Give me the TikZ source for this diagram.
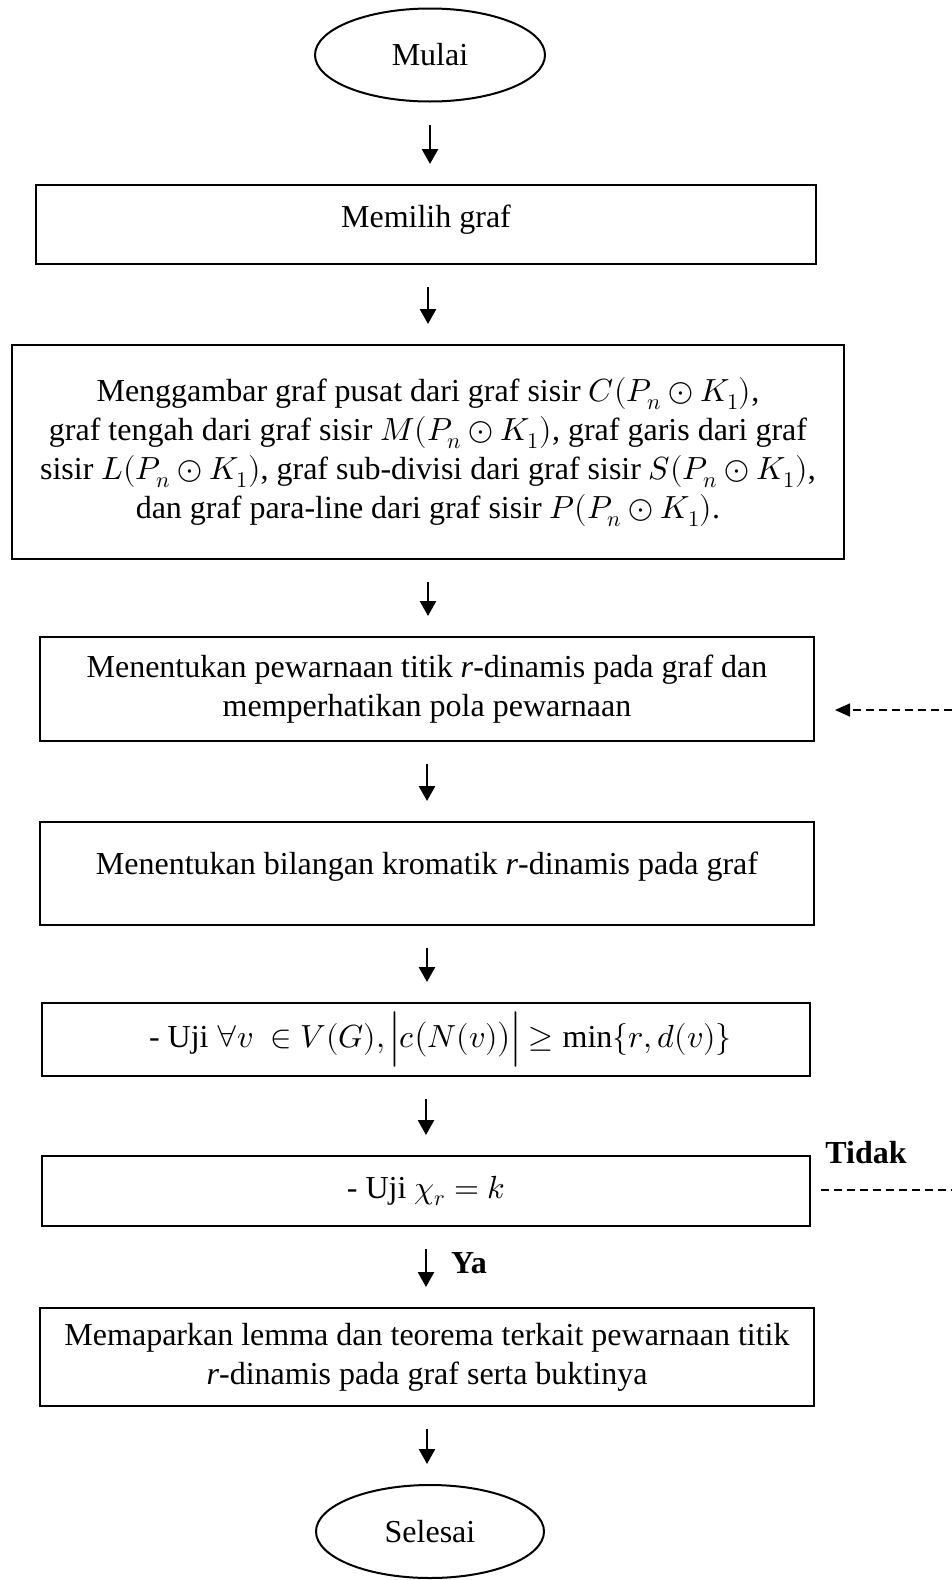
\documentclass[tikz,border=0pt]{standalone}
\usepackage{fontspec}
\usepackage{unicode-math}
\setmainfont{Liberation Serif}
\setmathfont{Latin Modern Math}
\usetikzlibrary{arrows.meta,shapes.geometric}
\begin{document}
\begin{tikzpicture}[x=1pt,y=-1pt,
  every node/.style={font=\fontsize{32}{39}\selectfont},
  box/.style={draw, line width=2pt, rectangle, inner sep=0pt, align=center},
  term/.style={draw, line width=2pt, ellipse, inner sep=0pt},
  arr/.style={line width=2.6pt, -{Triangle[width=16pt,length=15pt]}, shorten <=22pt, shorten >=20pt},
  dashline/.style={line width=1.6pt, dash pattern=on 8pt off 5pt},
  dasharr/.style={dashline, -{Triangle[width=13pt,length=15pt]}},
  lbl/.style={font=\fontsize{32}{39}\selectfont\bfseries, inner sep=0pt}]
\useasboundingbox (0,0) rectangle (952,1580);

\node[term, minimum width=230pt, minimum height=93pt] (start) at (430,55) {Mulai};
\node[box, minimum width=780pt, minimum height=79pt, text height=23pt, text depth=18pt] (b1) at (426,224.5) {Memilih graf};
\node[box, minimum width=832pt, minimum height=214pt] (b2) at (428,452) {Menggambar graf pusat dari graf sisir $C(P_n \odot K_1)$,\\
graf tengah dari graf sisir $M(P_n \odot K_1)$, graf garis dari graf\\
sisir $L(P_n \odot K_1)$, graf sub-divisi dari graf sisir $S(P_n \odot K_1)$,\\
dan graf para-line dari graf sisir $P(P_n \odot K_1)$.};
\node[box, minimum width=774pt, minimum height=104pt] (b3) at (427,689) {Menentukan pewarnaan titik \textit{r}-dinamis pada graf dan\\ memperhatikan pola pewarnaan};
\node[box, minimum width=774pt, minimum height=103pt, text height=23pt, text depth=22pt] (b4) at (427,873.5) {Menentukan bilangan kromatik \textit{r}-dinamis pada graf};
\node[box, minimum width=768pt, minimum height=73pt] (b5) at (426,1039.5) {\makebox[768pt][l]{\hspace*{107pt}- Uji $\forall v\ \in V(G), \Bigl|c\bigl(N(v)\bigr)\Bigr| \geq \min\{r, d(v)\}$}};
\node[box, minimum width=768pt, minimum height=70pt] (b6) at (426,1191) {- Uji $\chi_r = k$};
\node[box, minimum width=774pt, minimum height=98pt] (b7) at (427,1357) {Memaparkan lemma dan teorema terkait pewarnaan titik\\ \textit{r}-dinamis pada graf serta buktinya};
\node[term, minimum width=228pt, minimum height=93pt] (stop) at (430,1531.5) {Selesai};

\node[lbl] (tidak) at (866,1153) {Tidak};
\node[lbl] (ya) at (469,1263) {Ya};

\draw[arr] (start.south) -- (start.south |- b1.north);
\draw[arr] (b2.north |- b1.south) -- (b2.north);
\draw[arr] (b2.south) -- (b2.south |- b3.north);
\draw[arr] (b3.south) -- (b3.south |- b4.north);
\draw[arr] (b4.south) -- (b4.south |- b5.north);
\draw[arr] (b5.south) -- (b5.south |- b6.north);
\draw[arr] (b6.south) -- (b6.south |- b7.north);
\draw[arr] (b7.south) -- (b7.south |- stop.north);

\coordinate (fb) at (952,710);
\coordinate (fe) at (952,1190);
\draw[dasharr, shorten >=20pt] (fb) -- (b3.east |- fb);
\draw[dashline, shorten <=10pt] (b6.east |- fe) -- (fe);
\end{tikzpicture}
\end{document}
